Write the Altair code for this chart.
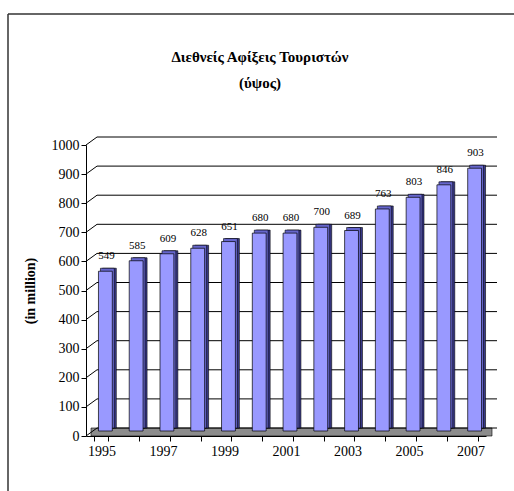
import altair as alt
import pandas as pd

years = ["1995", "1996", "1997", "1998", "1999", "2000", "2001",
         "2002", "2003", "2004", "2005", "2006", "2007"]
arrivals = [549, 585, 609, 628, 651, 680, 680, 700, 689, 763, 803, 846, 903]
tick_values = [0, 100, 200, 300, 400, 500, 600, 700, 800, 900, 1000]
title_lines = ["Διεθνείς Αφίξεις Τουριστών", "(ύψος)"]
y_title = "(in million)"

W, H = 400, 291
SERIF = "Liberation Serif, Times New Roman, serif"

df = pd.DataFrame({"year": years, "value": arrivals})
grid_df = pd.DataFrame({"v": tick_values})
one = alt.Data(values=[{}])

xscale = alt.Scale(paddingInner=0.55, paddingOuter=0.275)
yscale = alt.Scale(domain=[0, 1000])

x_axis = alt.Axis(title=None, labelAngle=0, tickBand="extent",
                  labelFont=SERIF, labelFontSize=14, labelColor="black",
                  labelExpr="(toNumber(datum.value) - 1995) % 2 == 0 ? datum.label : ''",
                  domainColor="black", tickColor="black", tickSize=5,
                  labelPadding=3, labelOverlap=False)
y_axis = alt.Axis(values=tick_values, grid=False, title=y_title, format="d",
                  titleFont=SERIF, titleFontSize=14, titleFontWeight="bold",
                  titleColor="black", titlePadding=14,
                  labelFont=SERIF, labelFontSize=14, labelColor="black",
                  domainColor="black", tickColor="black", tickSize=5,
                  labelPadding=2)

x_enc = alt.X("year:N", scale=xscale, sort=years, axis=x_axis)
y_enc = alt.Y("value:Q", scale=yscale, axis=y_axis)
yv_enc = alt.Y("v:Q", scale=yscale, axis=y_axis)

# frame (top and left edges)
frame_top = alt.Chart(one).mark_rule(color="#333333", strokeWidth=1.5).encode(
    x=alt.value(8 - 86), x2=alt.value(514 - 86), y=alt.value(14 - 145))
frame_left = alt.Chart(one).mark_rule(color="#333333", strokeWidth=1.5).encode(
    x=alt.value(8 - 86), y=alt.value(14 - 145), y2=alt.value(491 - 145))

# floor
floor = alt.Chart(one).mark_rect(color="#8c8c8c", stroke="black", strokeWidth=0.6).encode(
    x=alt.value(5), x2=alt.value(W + 6), y=alt.value(H), y2=alt.value(H - 8))

# back-wall gridlines
grid = alt.Chart(grid_df).mark_rule(color="black", strokeWidth=1, yOffset=-8).encode(
    y=yv_enc, x=alt.value(11), x2=alt.value(W + 11))
diag = alt.Chart(grid_df).mark_rule(color="black", strokeWidth=1, y2Offset=-8).encode(
    y=yv_enc, y2="v:Q", x=alt.value(0), x2=alt.value(11))

base = alt.Chart(df)

side = base.mark_bar(color="#3a3a8c", stroke="black", strokeWidth=0.6,
                     xOffset=8, yOffset=-8).encode(x=x_enc, y=y_enc)
top = base.mark_bar(color="#6666cc", stroke="black", strokeWidth=0.6,
                    xOffset=6, yOffset=-8).encode(x=x_enc, y=y_enc)
front = base.mark_bar(color="#9999ff", stroke="black", strokeWidth=0.7,
                      xOffset=4, yOffset=-5).encode(x=x_enc, y=y_enc)

labels = base.mark_text(font=SERIF, fontSize=11, color="black",
                        xOffset=5, yOffset=-15, baseline="bottom").encode(
    x=x_enc, y=y_enc, text="value:Q")

t1 = alt.Chart(one).mark_text(font=SERIF, fontSize=15, fontWeight="bold",
                              color="black", baseline="middle", align="center").encode(
    x=alt.value(174), y=alt.value(-88), text=alt.value(title_lines[0]))
t2 = alt.Chart(one).mark_text(font=SERIF, fontSize=15, fontWeight="bold",
                              color="black", baseline="middle", align="center").encode(
    x=alt.value(174), y=alt.value(-62), text=alt.value(title_lines[1]))

chart = alt.layer(frame_top, frame_left, floor, grid, diag, side, top, front,
                  labels, t1, t2).properties(
    width=W, height=H,
    autosize=alt.AutoSizeParams(type="none"),
    padding={"left": 86, "top": 145, "right": 28, "bottom": 55},
    background="white",
).configure_view(stroke=None)

chart.save("out.html", embed_options={"renderer": "svg", "actions": False})
